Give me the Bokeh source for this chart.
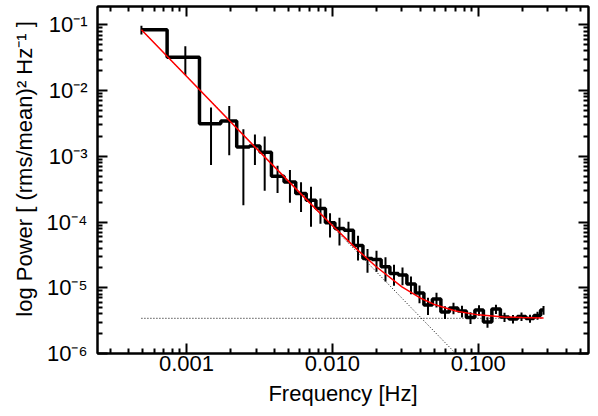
import numpy as np
from bokeh.plotting import figure
from bokeh.models import LogAxis, FixedTicker, Range1d, CustomJSTickFormatter
from bokeh.embed import file_html
from bokeh.resources import INLINE

# ---- data ----
freq = [4.91e-4, 9.82e-4, 1.473e-3, 1.964e-3, 2.455e-3, 2.946e-3, 3.437e-3,
        4.21e-3, 5.12e-3, 6.10e-3, 7.14e-3, 8.29e-3, 9.64e-3, 0.01119, 0.01290,
        0.01500, 0.01742, 0.02008, 0.02314, 0.02647, 0.03027, 0.03461, 0.03959,
        0.04527, 0.05177, 0.05921, 0.06770, 0.07743, 0.08855, 0.1013, 0.1158,
        0.1324, 0.1515, 0.1732, 0.1981, 0.2266, 0.2550, 0.2804]
power = [0.0840, 0.0322, 3.14e-3, 3.44e-3, 1.38e-3, 1.44e-3, 1.15e-3, 4.97e-4,
         4.07e-4, 2.72e-4, 2.15e-4, 1.61e-4, 9.71e-5, 7.98e-5, 7.52e-5, 4.40e-5,
         2.79e-5, 2.70e-5, 2.08e-5, 1.65e-5, 1.56e-5, 1.14e-5, 8.31e-6, 5.46e-6,
         6.73e-6, 4.28e-6, 4.92e-6, 4.43e-6, 3.53e-6, 4.58e-6, 3.01e-6, 4.74e-6,
         3.59e-6, 3.35e-6, 3.66e-6, 3.41e-6, 3.79e-6, 4.58e-6]
error = [0.013, 0.015, 2.4e-3, 2.4e-3, 1.2e-3, 0.7e-3, 0.85e-3, 2.2e-4, 2.1e-4,
         1.3e-4, 1.3e-4, 6.7e-5, 3.9e-5, 3.6e-5, 2.6e-5, 1.8e-5, 1.1e-5, 9.5e-6,
         8.3e-6, 5.8e-6, 4.7e-6, 3.4e-6, 2.5e-6, 1.6e-6, 1.7e-6, 9.4e-7, 9.8e-7,
         8.9e-7, 7.1e-7, 8.2e-7, 5.4e-7, 7.6e-7, 5.7e-7, 5.0e-7, 5.5e-7, 4.8e-7,
         5.3e-7, 6.9e-7]

model_f = [4.91e-4, 1e-3, 3e-3, 7e-3, 0.01, 0.015, 0.02, 0.03, 0.04, 0.05, 0.07,
           0.1, 0.15, 0.2, 0.2804]
model_p = [0.084, 0.01651, 1.332e-3, 1.955e-4, 8.84e-5, 3.71e-5, 2.086e-5,
           1.033e-5, 7.00e-6, 5.58e-6, 4.42e-6, 3.87e-6, 3.60e-6, 3.52e-6, 3.47e-6]

pl_f = [4.91e-4, 0.2804]
pl_p = [0.084, 4.2e-8]
const_f = [4.91e-4, 0.2804]
const_p = [3.43e-6, 3.43e-6]

x_ticks = [0.001, 0.01, 0.1]
y_ticks = [1e-6, 1e-5, 1e-4, 1e-3, 1e-2, 1e-1]
y_sup = ["\u207b\u2076", "\u207b\u2075", "\u207b\u2074", "\u207b\u00b3",
         "\u207b\u00b2", "\u207b\u00b9"]

X_START, X_END = 2.454e-4, 0.5705
Y_START, Y_END = 1.0e-6, 0.19

FONT = "Liberation Sans"

p = figure(x_axis_type="log", y_axis_type="log",
           x_range=Range1d(X_START, X_END), y_range=Range1d(Y_START, Y_END),
           frame_width=491, frame_height=347,
           min_border_left=97, min_border_right=10, min_border_top=6,
           min_border_bottom=63,
           output_backend="svg", toolbar_location=None,
           x_axis_label="Frequency [Hz]",
           y_axis_label="\u2002\u2002log Power [ (rms/mean)\u00b2 Hz\u207b\u00b9 ]")
p.grid.visible = False
p.outline_line_color = "black"
p.outline_line_width = 2
p.background_fill_color = "white"
p.border_fill_color = "white"

x_minor = [m * 10.0 ** k for k in range(-4, 0) for m in range(2, 10)]
y_minor = [m * 10.0 ** k for k in range(-7, 0) for m in range(2, 10)]


def style(ax, ticks, minor):
    ax.ticker = FixedTicker(ticks=ticks, minor_ticks=minor)
    ax.major_tick_in = 10
    ax.major_tick_out = 0
    ax.minor_tick_in = 5
    ax.minor_tick_out = 0
    ax.major_tick_line_width = 2
    ax.minor_tick_line_width = 2
    ax.major_tick_line_color = "black"
    ax.minor_tick_line_color = "black"
    ax.axis_line_width = 2
    ax.axis_line_color = "black"
    ax.major_label_text_font = FONT
    ax.major_label_text_font_size = "22px"
    ax.major_label_text_color = "black"
    ax.axis_label_text_font = FONT
    ax.axis_label_text_font_size = "22px"
    ax.axis_label_text_font_style = "normal"
    ax.axis_label_text_color = "black"


xa = p.xaxis[0]
style(xa, x_ticks, x_minor)
xa.formatter = CustomJSTickFormatter(code="return tick.toFixed(3);")
xa.major_label_standoff = 2
xa.axis_label_standoff = 7

ya = p.yaxis[0]
style(ya, y_ticks, y_minor)
ya.formatter = CustomJSTickFormatter(
    args=dict(sups=y_sup),
    code="const i = Math.round(Math.log10(tick)) + 6; return '10' + sups[i];")
ya.major_label_standoff = 10
ya.axis_label_standoff = 7
ya.axis_label_text_line_height = 0.8

top = LogAxis()
style(top, x_ticks, x_minor)
top.formatter = CustomJSTickFormatter(code="return '';")
top.major_label_text_font_size = "1px"
top.major_label_standoff = 0
p.add_layout(top, "above")

right = LogAxis()
style(right, y_ticks, y_minor)
right.formatter = CustomJSTickFormatter(code="return '';")
right.major_label_text_font_size = "1px"
right.major_label_standoff = 0
p.add_layout(right, "right")

# dotted model components
p.line(const_f, const_p, line_color="black", line_width=1, line_dash="1 2")
p.line(pl_f, pl_p, line_color="black", line_width=1, line_dash="1 2")

# histogram-style steps (edges at linear midpoints)
f = np.array(freq)
pw = np.array(power)
er = np.array(error)
edges = np.concatenate([[f[0]], (f[:-1] + f[1:]) / 2.0, [f[-1]]])
xs = np.repeat(edges, 2)[1:-1]
ys = np.repeat(pw, 2)
p.line(xs, ys, line_color="black", line_width=3.5)

# error bars
p.segment(x0=f, y0=pw - er, x1=f, y1=pw + er, line_color="black", line_width=2)

# model
p.line(model_f, model_p, line_color="#ff0000", line_width=1.5)

open("out.html", "w").write(file_html(p, INLINE))
